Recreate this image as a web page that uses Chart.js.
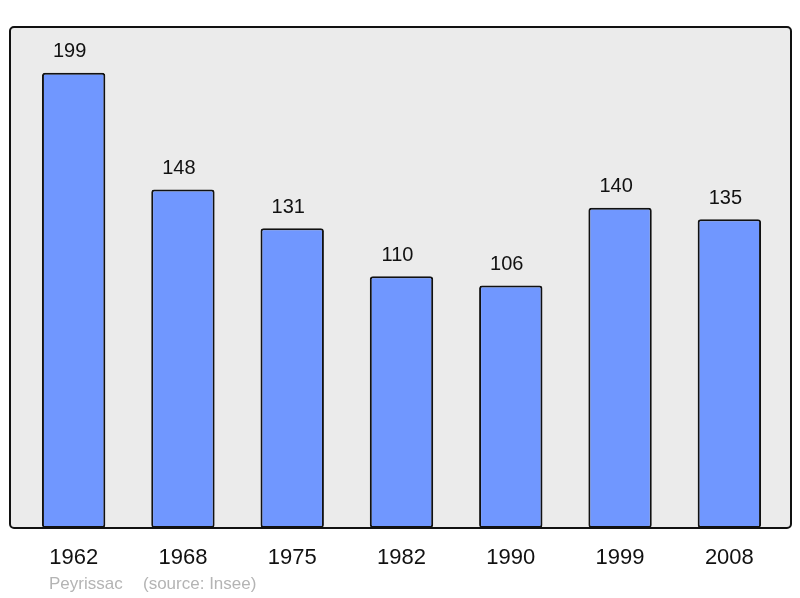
<!DOCTYPE html>
<html>
<head>
<meta charset="utf-8">
<script src="https://cdn.jsdelivr.net/npm/chart.js@4.4.1/dist/chart.umd.min.js"></script>
<style>
  html, body { margin: 0; padding: 0; background: #fff; }
  #wrap { width: 800px; height: 598px; position: relative; }
</style>
</head>
<body>
<div id="wrap"><canvas id="myChart" width="800" height="598"></canvas></div>
<script>
const annees = ["1962", "1968", "1975", "1982", "1990", "1999", "2008"];
const habitants = [199, 148, 131, 110, 106, 140, 135];
const commune = "Peyrissac";
const source = "(source: Insee)";

// fond gris + cadre arrondi autour de la zone du graphique
const cadre = {
    id: 'cadre',
    beforeDatasetsDraw(chart) {
        const { ctx, chartArea } = chart;
        const x = chartArea.left - 9, y = chartArea.top;
        const w = chartArea.right + 7 - x, h = chartArea.bottom - y;
        ctx.save();
        ctx.beginPath();
        ctx.roundRect(x, y, w, h, 4);
        ctx.fillStyle = '#ebebeb';
        ctx.fill();
        ctx.restore();
    },
    afterDatasetsDraw(chart) {
        const { ctx, chartArea } = chart;
        const x = chartArea.left - 9, y = chartArea.top;
        const w = chartArea.right + 7 - x, h = chartArea.bottom - y;
        ctx.save();
        ctx.beginPath();
        ctx.roundRect(x, y, w, h, 4);
        ctx.lineWidth = 2;
        ctx.strokeStyle = '#111';
        ctx.stroke();

        // valeurs au dessus des barres
        ctx.fillStyle = '#111';
        ctx.font = '20px "Liberation Sans", Arial, sans-serif';
        ctx.textAlign = 'center';
        ctx.textBaseline = 'middle';
        chart.getDatasetMeta(0).data.forEach((bar, i) => {
            ctx.fillText(String(habitants[i]), bar.x - 4, bar.y - 21);
        });

        // pied de page
        ctx.fillStyle = '#b4b4b4';
        ctx.font = '17px "Liberation Sans", Arial, sans-serif';
        ctx.textAlign = 'left';
        ctx.fillText(commune, 49, 584);
        ctx.fillText(source, 143, 584);
        ctx.restore();
    }
};

const ctx = document.getElementById('myChart').getContext('2d');
new Chart(ctx, {
    type: 'bar',
    data: {
        labels: annees,
        datasets: [{
            data: habitants,
            backgroundColor: '#7097ff',
            borderColor: '#111',
            borderWidth: 2,
            borderRadius: 3,
            borderSkipped: false,
            barPercentage: 0.58,
            categoryPercentage: 1
        }]
    },
    options: {
        responsive: false,
        animation: false,
        layout: { padding: { left: 19, right: 16, top: 27, bottom: 0 } },
        plugins: {
            legend: { display: false },
            tooltip: { enabled: false }
        },
        scales: {
            y: { display: false, min: 0, max: 219 },
            x: {
                grid: { display: false, drawTicks: false },
                border: { display: false },
                ticks: {
                    color: '#111',
                    padding: 17,
                    font: { size: 22, family: '"Liberation Sans", Arial, sans-serif' }
                },
                afterFit(scale) { scale.height = 70; }
            }
        }
    },
    plugins: [cadre]
});
</script>
</body>
</html>
